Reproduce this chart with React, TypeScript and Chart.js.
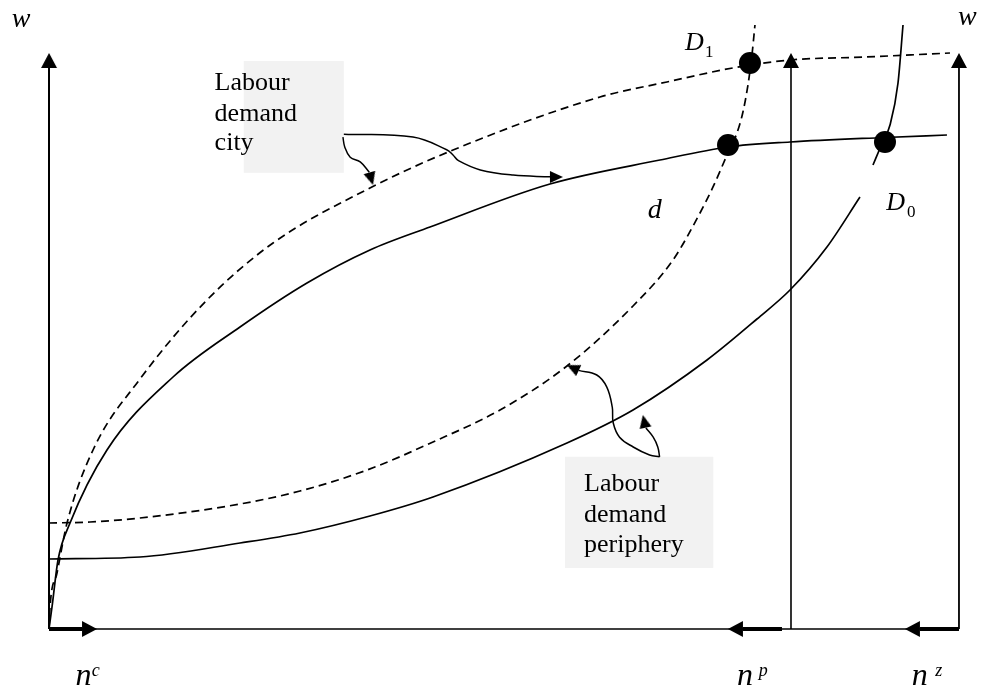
import React, { useEffect, useRef } from "react";
import { Chart, registerables } from "chart.js";

Chart.register(...registerables);

// Diagram space: n runs 0..100 from the city axis to the right-hand axis,
// w runs 0..100 from the base line to the arrow tips.

// Labour demand city, initial (solid, concave)
const cityD0N = [0, 0.33, 0.99, 2.31, 6.37, 13.63, 20.99, 28.35, 35.27, 41.87, 55.05, 67.14, 74.62, 81.43, 91.87, 98.68];
const cityD0W = [0, 3.82, 11.98, 18.40, 31.08, 43.75, 52.43, 60.07, 65.80, 69.79, 77.26, 81.42, 83.68, 84.55, 85.33, 85.76];

// Labour demand city, shifted (dashed, concave)
const cityD1N = [0, 0.11, 0.88, 1.98, 4.84, 10.0, 17.36, 24.62, 35.27, 44.40, 60.55, 67.91, 75.16, 81.43, 89.89, 99.01];
const cityD1W = [0, 3.82, 9.72, 18.40, 31.08, 43.40, 57.12, 67.01, 76.56, 83.16, 92.36, 94.97, 97.40, 98.78, 99.31, 100.0];

// Labour demand periphery, initial (solid, convex) — null marks the break at D0
const periD0N = [0, 10.0, 20.99, 27.58, 35.27, 42.20, 56.92, 64.18, 72.31, 77.80, 81.43, 85.49, 89.12, 89.8, 90.55, 91.43, 92.42, 93.30, 93.85];
const periD0W = [12.15, 12.50, 14.93, 16.67, 19.62, 22.92, 32.29, 38.02, 46.70, 53.82, 58.85, 66.32, 75.00, null, 80.56, 83.85, 87.50, 94.79, 104.86];

// Labour demand periphery, shifted (dashed, convex)
const periD1N = [0, 4.51, 10.0, 20.99, 27.58, 34.95, 42.20, 49.56, 56.92, 64.18, 68.57, 71.54, 72.97, 74.51, 75.60, 76.26, 76.81, 77.25, 77.58];
const periD1W = [18.40, 18.58, 19.27, 21.70, 23.96, 27.60, 32.47, 38.02, 45.66, 56.08, 64.06, 72.22, 76.74, 82.29, 86.11, 89.76, 94.44, 99.65, 104.86];

// Equilibrium points (D1, d, D0)
const eqN = [77.03, 74.62, 91.87];
const eqW = [98.26, 84.03, 84.55];

// Connector arrows from the text boxes
const connAN = [32.4, 40.0, 43.7, 44.4, 45.0, 47.4, 51.0, 55.1];
const connAW = [85.9, 85.4, 83.2, 82.3, 81.3, 79.7, 78.8, 78.5];
const connBN = [32.3, 32.5, 33.1, 34.2, 35.2];
const connBW = [85.4, 83.7, 81.9, 81.1, 79.3];
const connCN = [67.1, 66.0, 64.2, 62.7, 62.0, 61.9, 61.3, 60.2, 58.2];
const connCW = [29.9, 30.2, 31.6, 33.3, 35.8, 38.5, 42.0, 44.1, 44.9];
const connDN = [67.1, 66.9, 66.4, 65.6];
const connDW = [29.9, 31.6, 33.3, 34.9];

// Axes (n positions of the vertical axes, top of the axis lines)
const axisN = [0, 81.54, 100];
const axisTopW = 97.4;
const thickFromN = [0, 76.26, 95.71];
const thickToN = [3.63, 80.55, 100];

// Axis arrowheads (position = base centre of head, rotation in degrees)
const axisHeadN = [0, 81.54, 100, 3.63, 76.26, 95.71];
const axisHeadW = [97.4, 97.4, 97.4, 0, 0, 0];
const axisHeadRot = [0, 0, 0, 90, 270, 270];

// Connector arrowheads
const connHeadN = [55.05, 35.21, 58.21, 65.56];
const connHeadW = [78.47, 79.25, 44.86, 34.95];
const connHeadRot = [90, 164, 295, 348];

// Text boxes
const boxLines = [
  ["Labour", "demand", "city"],
  ["Labour", "demand", "periphery"],
];
const boxN0 = [21.4, 56.7];
const boxN1 = [32.4, 73.0];
const boxWTop = [98.6, 29.9];
const boxWBottom = [79.2, 10.6];
const boxTextN = [18.2, 58.8];
const boxTextW = [[93.6, 88.2, 83.1], [24.0, 18.6, 13.4]];

// Symbol labels
const labelText = ["w", "w", "D", "1", "d", "D", "0", "n", "c", "n", "p", "n", "z"];
const labelN = [-4.1, 99.9, 69.9, 72.1, 65.8, 92.0, 94.3, 2.9, 4.7, 75.6, 78.0, 94.8, 97.4];
const labelW = [104.5, 104.9, 100.5, 99.3, 71.4, 72.7, 71.5, -9.7, -8.2, -9.7, -8.2, -9.7, -8.2];
const labelSize = [28, 28, 26, 17, 28, 26, 17, 32, 18, 32, 18, 32, 18];
const labelItalic = [true, true, true, false, true, true, false, true, true, true, true, true, true];

const SERIF = "'Liberation Serif', 'Times New Roman', serif";

function zip(xs: number[], ys: (number | null)[]) {
  return xs.map((x, i) => ({ x, y: ys[i] }));
}

// Arrowhead sprite: tip at top centre, base at the sprite centre.
function makeHead(len: number, half: number) {
  const c = document.createElement("canvas");
  c.width = Math.ceil(half * 2 + 2);
  c.height = Math.ceil(len * 2);
  const g = c.getContext("2d")!;
  const cx = c.width / 2;
  g.fillStyle = "#000";
  g.beginPath();
  g.moveTo(cx, 0);
  g.lineTo(cx + half, len);
  g.lineTo(cx - half, len);
  g.closePath();
  g.fill();
  return c;
}

const boxesPlugin = {
  id: "boxes",
  beforeDatasetsDraw(chart: any) {
    const { ctx, scales } = chart;
    const sx = scales.x, sy = scales.y;
    ctx.save();
    ctx.fillStyle = "#f2f2f2";
    for (let i = 0; i < boxLines.length; i++) {
      const x0 = sx.getPixelForValue(boxN0[i]);
      const x1 = sx.getPixelForValue(boxN1[i]);
      const y0 = sy.getPixelForValue(boxWTop[i]);
      const y1 = sy.getPixelForValue(boxWBottom[i]);
      ctx.fillRect(x0, y0, x1 - x0, y1 - y0);
    }
    ctx.restore();
  },
  afterDatasetsDraw(chart: any) {
    const { ctx, scales } = chart;
    const sx = scales.x, sy = scales.y;
    ctx.save();
    ctx.fillStyle = "#000";
    ctx.textAlign = "left";
    ctx.textBaseline = "alphabetic";
    ctx.font = `26px ${SERIF}`;
    for (let i = 0; i < boxLines.length; i++) {
      boxLines[i].forEach((line, j) => {
        ctx.fillText(line, sx.getPixelForValue(boxTextN[i]), sy.getPixelForValue(boxTextW[i][j]));
      });
    }
    for (let i = 0; i < labelText.length; i++) {
      ctx.font = `${labelItalic[i] ? "italic " : ""}${labelSize[i]}px ${SERIF}`;
      ctx.fillText(labelText[i], sx.getPixelForValue(labelN[i]), sy.getPixelForValue(labelW[i]));
    }
    ctx.restore();
  },
};

export default function App() {
  const ref = useRef<HTMLCanvasElement>(null);
  useEffect(() => {
    document.body.style.margin = "0";
    const bigHead = makeHead(15, 8);
    const smallHead = makeHead(13, 6);
    const curve = (data: any[], dashed: boolean, width = 1.7, smooth = "monotone") => ({
      data,
      showLine: true,
      borderColor: "#000",
      borderWidth: width,
      borderDash: dashed ? [8, 5] : [],
      pointRadius: 0,
      tension: 0.4,
      cubicInterpolationMode: smooth,
      fill: false,
    });
    const straight = (data: any[], width: number) => ({
      data,
      showLine: true,
      borderColor: "#000",
      borderWidth: width,
      pointRadius: 0,
      tension: 0,
      fill: false,
    });
    const heads = (data: any[], rot: number[], img: HTMLCanvasElement) => ({
      data,
      showLine: false,
      pointStyle: img,
      pointRadius: 10,
      pointRotation: rot,
    });
    const datasets: any[] = [
      {
        data: zip(eqN, eqW),
        showLine: false,
        pointRadius: 11,
        pointBackgroundColor: "#000",
        pointBorderColor: "#000",
        pointBorderWidth: 0,
      },
      heads(zip(axisHeadN, axisHeadW), axisHeadRot, bigHead),
      heads(zip(connHeadN, connHeadW), connHeadRot, smallHead),
      curve(zip(cityD0N, cityD0W), false),
      curve(zip(cityD1N, cityD1W), true),
      curve(zip(periD0N, periD0W), false),
      curve(zip(periD1N, periD1W), true),
      curve(zip(connAN, connAW), false, 1.5, "default"),
      curve(zip(connBN, connBW), false, 1.5, "default"),
      curve(zip(connCN, connCW), false, 1.5, "default"),
      curve(zip(connDN, connDW), false, 1.5, "default"),
      straight([{ x: axisN[0], y: 0 }, { x: axisN[0], y: axisTopW }], 2),
      straight([{ x: axisN[1], y: 0 }, { x: axisN[1], y: axisTopW }], 1.6),
      straight([{ x: axisN[2], y: 0 }, { x: axisN[2], y: axisTopW }], 1.8),
      straight([{ x: axisN[0], y: 0 }, { x: axisN[2], y: 0 }], 1.6),
      ...thickFromN.map((n0, i) => straight([{ x: n0, y: 0 }, { x: thickToN[i], y: 0 }], 4)),
    ];
    const chart = new Chart(ref.current!, {
      type: "scatter",
      data: { datasets },
      options: {
        animation: false,
        responsive: false,
        maintainAspectRatio: false,
        devicePixelRatio: 1,
        layout: { padding: 0, autoPadding: false },
        plugins: { legend: { display: false }, tooltip: { enabled: false } },
        scales: {
          x: { type: "linear", min: -5.385, max: 102.64, display: false },
          y: { type: "linear", min: -11.11, max: 109.2, display: false },
        },
      },
      plugins: [boxesPlugin],
    } as any);
    return () => chart.destroy();
  }, []);
  return (
    <div style={{ width: 983, height: 693, background: "#fff" }}>
      <canvas ref={ref} width={983} height={693} style={{ display: "block" }} />
    </div>
  );
}
